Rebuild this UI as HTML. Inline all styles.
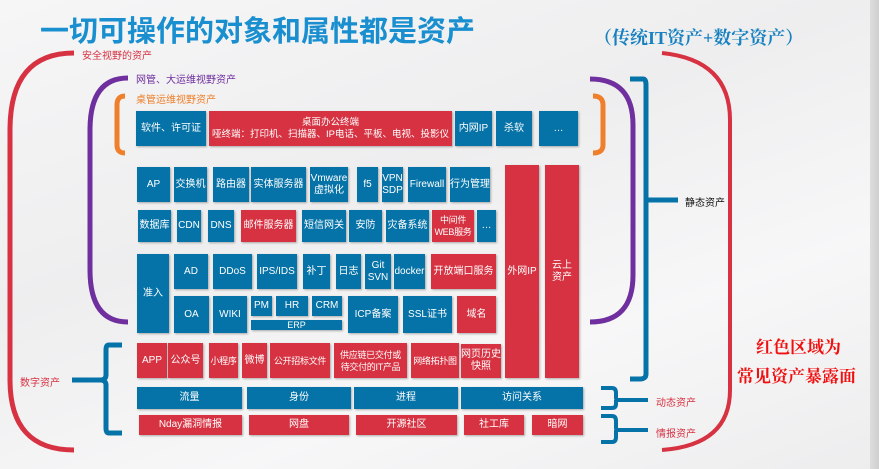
<!DOCTYPE html>
<html><head><meta charset="utf-8"><style>
*{margin:0;padding:0;box-sizing:border-box}
body{width:879px;height:469px;overflow:hidden;position:relative;background:linear-gradient(160deg,#f6f6f7 0%,#eeeeef 40%,#f7f7f8 70%,#ededee 100%);font-family:"Liberation Sans","Noto Sans CJK SC",sans-serif}
.b{position:absolute;display:flex;align-items:center;justify-content:center;text-align:center;color:#fff;font-size:10px;line-height:12px;white-space:nowrap;background:#0673a8;box-shadow:1px 1px 2px rgba(0,0,0,.3)}
.r{background:#d63242}
.s{font-size:9px;letter-spacing:-0.3px}
.t{position:absolute;white-space:nowrap;font-size:10px}
</style></head><body>
<div style="position:absolute;right:0;top:0;width:9px;height:469px;background:linear-gradient(90deg,#ddd,#cfcfcf)"></div>
<div class="t" style="left:40px;top:8px;font-size:29px;font-weight:bold;color:#1a8fd0">一切可操作的对象和属性都是资产</div>
<div class="t" style="left:594px;top:24px;font-size:18px;font-weight:bold;color:#1680c0;font-family:'Liberation Serif','Noto Serif CJK SC',serif">（传统IT资产+数字资产）</div>
<svg width="879" height="469" style="position:absolute;left:0;top:0" fill="none">
<path d="M74 53 Q10 53 10 130 V380 Q10 450 74 450" stroke="#d63242" stroke-width="5"/>
<path d="M128 78 Q90 78 90 130 V270 Q90 322 128 322" stroke="#6f2f9e" stroke-width="5"/>
<path d="M125 96 Q117 96 117 105 V145 Q117 153 125 153" stroke="#ef7f2a" stroke-width="5"/>
<path d="M122 345 H109 Q106 345 106 350 V375 Q106 380 100 380 H72 M100 380 Q106 380 106 385 V428 Q106 433 109 433 H122" stroke="#0673a8" stroke-width="5"/>
<path d="M590 79 Q633 79 633 125 V275 Q633 322 590 322" stroke="#6f2f9e" stroke-width="5"/>
<path d="M593 96 Q603 96 603 105 V145 Q603 153 593 153" stroke="#ef7f2a" stroke-width="5"/>
<path d="M630 79 H643 Q646 79 646 85 V374 Q646 379 640 379 H630 M646 200 H678" stroke="#0673a8" stroke-width="5"/>
<path d="M662 53 Q730 60 730 120 V390 Q730 445 662 450" stroke="#d63242" stroke-width="4"/>
<path d="M601 388 H612 Q616 388 616 393 V398 Q616 400 620 400 H648 M616 400 V404 Q616 408 612 408 H601" stroke="#0673a8" stroke-width="4"/>
<path d="M601 416 H612 Q616 416 616 421 V428 Q616 430 620 430 H648 M616 430 V437 Q616 442 612 442 H601" stroke="#0673a8" stroke-width="4"/>
</svg>
<div class="t" style="left:82px;top:47px;color:#d63242">安全视野的资产</div>
<div class="t" style="left:136px;top:71px;color:#6f2f9e">网管、大运维视野资产</div>
<div class="t" style="left:136px;top:91px;color:#ef7f2a">桌管运维视野资产</div>
<div class="t" style="left:20px;top:374px;color:#d63242">数字资产</div>
<div class="t" style="left:685px;top:194px;color:#111">静态资产</div>
<div class="t" style="left:656px;top:394px;color:#d63242">动态资产</div>
<div class="t" style="left:656px;top:425px;color:#d63242">情报资产</div>
<div class="t" style="left:756px;top:333px;font-size:17px;font-weight:bold;color:#f01010;font-family:'Liberation Serif','Noto Serif CJK SC',serif">红色区域为</div>
<div class="t" style="left:737px;top:362px;font-size:17px;font-weight:bold;color:#f01010;font-family:'Liberation Serif','Noto Serif CJK SC',serif">常见资产暴露面</div>

<div class="b" style="left:136px;top:111px;width:70px;height:35px">软件、许可证</div>
<div class="b r" style="left:209px;top:111px;width:243px;height:35px;font-size:9.5px">桌面办公终端<br>哑终端：打印机、扫描器、IP电话、平板、电视、投影仪</div>
<div class="b" style="left:455px;top:111px;width:37px;height:35px">内网IP</div>
<div class="b" style="left:496px;top:111px;width:36px;height:35px">杀软</div>
<div class="b" style="left:539px;top:111px;width:39px;height:35px">…</div>

<div class="b" style="left:137px;top:167px;width:33px;height:35px">AP</div>
<div class="b" style="left:174px;top:167px;width:33px;height:35px">交换机</div>
<div class="b" style="left:213px;top:167px;width:36px;height:35px">路由器</div>
<div class="b" style="left:251px;top:167px;width:55px;height:35px">实体服务器</div>
<div class="b" style="left:310px;top:167px;width:38px;height:35px">Vmware<br>虚拟化</div>
<div class="b" style="left:357px;top:167px;width:21px;height:35px">f5</div>
<div class="b" style="left:382px;top:167px;width:21px;height:35px">VPN<br>SDP</div>
<div class="b" style="left:408px;top:167px;width:38px;height:35px">Firewall</div>
<div class="b" style="left:450px;top:167px;width:40px;height:35px">行为管理</div>
<div class="b r" style="left:505px;top:165px;width:34px;height:213px">外网IP</div>
<div class="b r" style="left:545px;top:165px;width:34px;height:213px">云上<br>资产</div>

<div class="b" style="left:138px;top:210px;width:33px;height:32px">数据库</div>
<div class="b" style="left:177px;top:210px;width:24px;height:32px">CDN</div>
<div class="b" style="left:208px;top:210px;width:26px;height:32px">DNS</div>
<div class="b r" style="left:241px;top:210px;width:55px;height:32px">邮件服务器</div>
<div class="b" style="left:302px;top:210px;width:44px;height:32px">短信网关</div>
<div class="b" style="left:349px;top:210px;width:33px;height:32px">安防</div>
<div class="b" style="left:386px;top:210px;width:43px;height:32px">灾备系统</div>
<div class="b r s" style="left:432px;top:210px;width:42px;height:32px">中间件<br>WEB服务</div>
<div class="b" style="left:477px;top:210px;width:19px;height:32px">…</div>

<div class="b" style="left:137px;top:254px;width:32px;height:79px">准入</div>
<div class="b" style="left:174px;top:254px;width:34px;height:35px">AD</div>
<div class="b" style="left:213px;top:254px;width:39px;height:35px">DDoS</div>
<div class="b" style="left:257px;top:254px;width:40px;height:35px">IPS/IDS</div>
<div class="b" style="left:303px;top:254px;width:27px;height:35px">补丁</div>
<div class="b" style="left:336px;top:254px;width:25px;height:35px">日志</div>
<div class="b" style="left:365px;top:254px;width:26px;height:35px">Git<br>SVN</div>
<div class="b" style="left:394px;top:254px;width:31px;height:35px">docker</div>
<div class="b r" style="left:431px;top:254px;width:65px;height:35px">开放端口服务</div>

<div class="b" style="left:174px;top:296px;width:35px;height:37px">OA</div>
<div class="b" style="left:213px;top:296px;width:34px;height:37px">WIKI</div>
<div class="b" style="left:251px;top:296px;width:21px;height:20px">PM</div>
<div class="b" style="left:276px;top:296px;width:32px;height:20px">HR</div>
<div class="b" style="left:312px;top:296px;width:30px;height:20px">CRM</div>
<div class="b" style="left:251px;top:320px;width:91px;height:10px;font-size:9px">ERP</div>
<div class="b" style="left:348px;top:296px;width:50px;height:37px">ICP备案</div>
<div class="b" style="left:403px;top:296px;width:49px;height:37px">SSL证书</div>
<div class="b r" style="left:457px;top:296px;width:39px;height:37px">域名</div>

<div class="b r" style="left:137px;top:343px;width:30px;height:35px">APP</div>
<div class="b r" style="left:168px;top:343px;width:35px;height:35px">公众号</div>
<div class="b r s" style="left:209px;top:343px;width:29px;height:35px">小程序</div>
<div class="b r" style="left:242px;top:343px;width:25px;height:35px">微博</div>
<div class="b r s" style="left:270px;top:343px;width:60px;height:35px">公开招标文件</div>
<div class="b r s" style="left:334px;top:343px;width:73px;height:35px">供应链已交付或<br>待交付的IT产品</div>
<div class="b r s" style="left:411px;top:343px;width:48px;height:35px">网络拓扑图</div>
<div class="b r" style="left:461px;top:344px;width:40px;height:34px">网页历史<br>快照</div>

<div class="b" style="left:137px;top:387px;width:105px;height:22px">流量</div>
<div class="b" style="left:247px;top:387px;width:104px;height:22px">身份</div>
<div class="b" style="left:354px;top:387px;width:104px;height:22px">进程</div>
<div class="b" style="left:461px;top:387px;width:122px;height:22px">访问关系</div>

<div class="b r" style="left:139px;top:415px;width:103px;height:20px">Nday漏洞情报</div>
<div class="b r" style="left:249px;top:415px;width:100px;height:20px">网盘</div>
<div class="b r" style="left:356px;top:415px;width:101px;height:20px">开源社区</div>
<div class="b r" style="left:464px;top:415px;width:60px;height:20px">社工库</div>
<div class="b r" style="left:532px;top:415px;width:51px;height:20px">暗网</div>
</body></html>
